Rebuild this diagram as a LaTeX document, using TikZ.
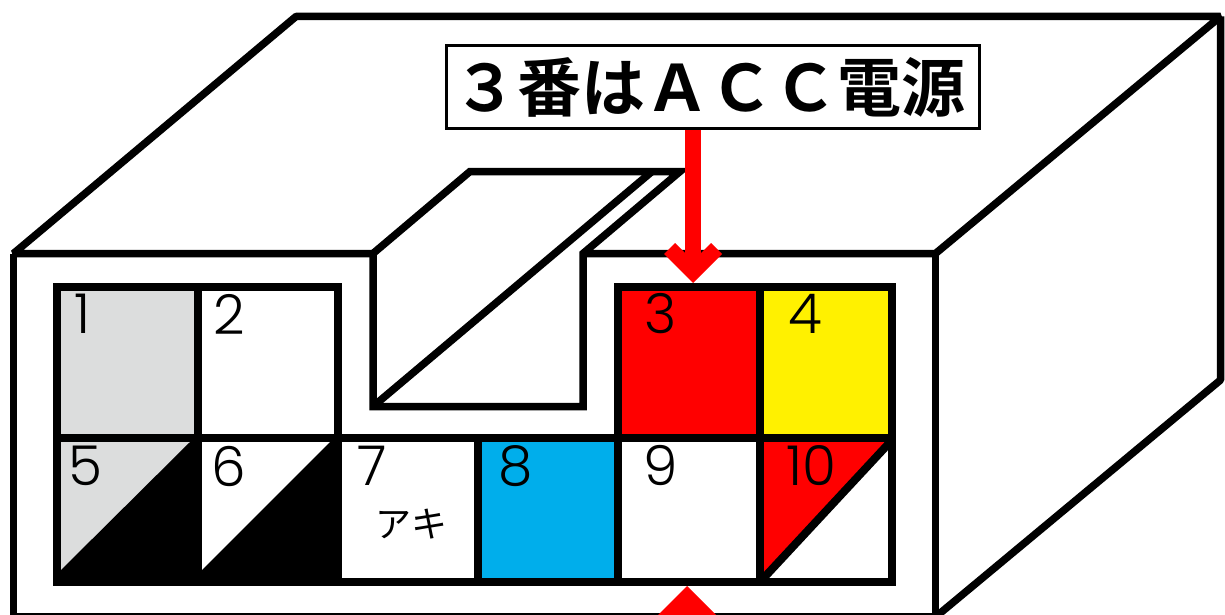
\documentclass[tikz,border=0pt]{standalone}
\usepackage{fontspec}
\newfontfamily\cjk{Noto Sans CJK JP}
\newfontfamily\cjkb{Noto Sans CJK JP Bold}
\newfontfamily\digitfont{Poppins Light}
\tikzset{
 box/.style={draw=black,line width=7.5pt,line join=bevel},
 cell/.style={draw=black,line width=8pt,line join=miter},
 redtip/.style={fill=red,draw=none},
 num/.style={inner sep=0pt,font=\digitfont\fontsize{55}{55}\selectfont,text=black},
}
\definecolor{lg}{HTML}{DCDDDD}
\definecolor{yel}{HTML}{FFF100}
\definecolor{blu}{HTML}{00AEEB}
\begin{document}
\begin{tikzpicture}[x=1pt,y=-1pt]
\useasboundingbox (0,0) rectangle (1225,615);
\fill[white] (0,0) rectangle (1225,615);
\begin{scope}
\clip (0,0) rectangle (1225,615);
% box
\draw[box] (13.5,253.5) -- (296,16.5) -- (1220.5,16.5) -- (935.5,253.5) -- cycle;
\draw[box] (13.5,253.5) -- (13.5,617) -- (935.5,617) -- (935.5,253.5);
\draw[box] (935.5,617) -- (1220.5,380) -- (1220.5,16.5);
% slot
\draw[box,line join=miter,fill=white] (373,253.5) -- (373,406.5) -- (583,406.5) -- (583,253.5) -- (680,171.5) -- (470,171.5) -- cycle;
\draw[box] (373,406.5) -- (652,171.5);
% cells
\fill[lg] (57,287) rectangle (198,438);
\fill[yel] (759.5,287) rectangle (892,438);
\fill[red] (618,287) rectangle (759.5,438);
\fill[blu] (478,438) rectangle (618,582);
\fill[lg] (57,438) rectangle (198,582);
\fill[black] (57,582) -- (198,582) -- (198,438) -- (190,442) -- (61,570) -- cycle;
\fill[black] (198,582) -- (338,582) -- (338,438) -- (330,442) -- (202,570) -- cycle;
\fill[red] (759.5,438) -- (892,438) -- (759.5,582) -- cycle;
\draw[cell] (57,287) rectangle (198,438);
\draw[cell] (198,287) rectangle (338,438);
\draw[cell] (618,287) rectangle (759.5,438);
\draw[cell] (759.5,287) rectangle (892,438);
\draw[cell] (57,438) rectangle (892,582);
\foreach \x in {198,338,478,618,759.5} \draw[cell] (\x,438) -- (\x,582);
\draw[cell] (892,440) -- (760,582);
% bottom arrow
\fill[redtip] (687,586) -- (658,615) -- (716,615) -- cycle;
\end{scope}
% label
\node[draw=black,line width=2.5pt,fill=white,minimum width=533pt,minimum height=83pt,inner sep=0pt,font=\cjkb\fontsize{64}{64}\selectfont] (lab) at (713,87) {\kern-8pt ３番はＡＣＣ電源};
\coordinate (stemend) at (693,268);
\draw[red,line width=16pt] (lab.south -| stemend) -- (stemend);
\fill[redtip] (693,283) -- (664,254) -- (675,243) -- (693,261) -- (711,243) -- (722,254) -- cycle;
% numbers
\node[num] (n1) at (83,314) {1};
\node[num] (n2) at (229,314) {2};
\node[num] (n3) at (661,314) {3};
\node[num] (n4) at (805,314) {4};
\node[num] (n5) at (85,466) {5};
\node[num] (n6) at (229,466) {6};
\node[num] (n7) at (372,466) {7};
\node[num] (n8) at (516,466) {8};
\node[num] (n9) at (661,466) {9};
\node[num] (n10) at (811,466) {10};
\node[inner sep=0pt,font=\cjk\fontsize{36}{36}\selectfont] (aki) at (411,524) {アキ};
\end{tikzpicture}
\end{document}
